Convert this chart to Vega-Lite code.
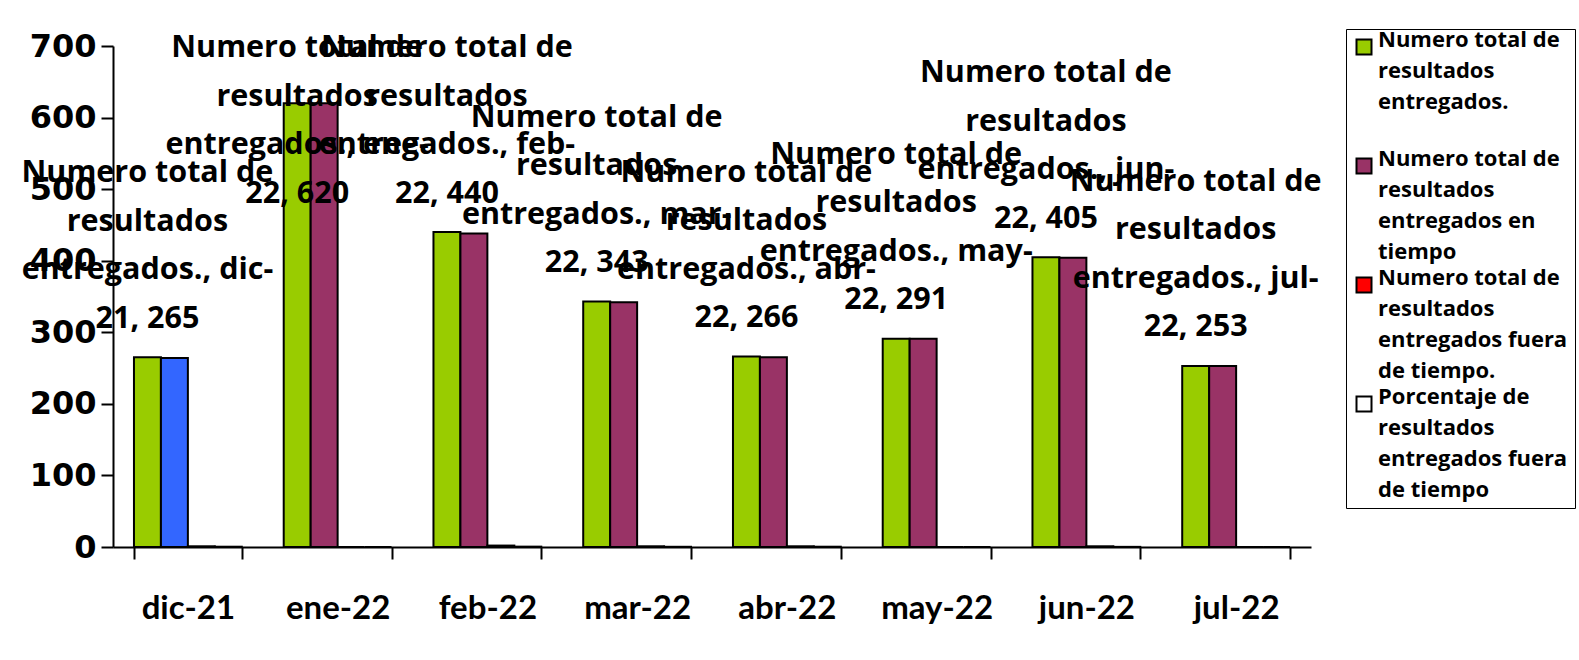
{
  "$schema": "https://vega.github.io/schema/vega-lite/v6.json",
  "width": 1198,
  "height": 501,
  "autosize": {"type": "none"},
  "padding": {"left": 113, "top": 46, "right": 268, "bottom": 113},
  "background": "white",
  "config": {
    "view": {"stroke": null},
    "style": {"guide-label": {"lineHeight": 31}}
  },
  "data": {
    "values": [
      {"month": "dic-21", "series": "Numero total de resultados entregados.", "value": 265},
      {"month": "ene-22", "series": "Numero total de resultados entregados.", "value": 620},
      {"month": "feb-22", "series": "Numero total de resultados entregados.", "value": 440},
      {"month": "mar-22", "series": "Numero total de resultados entregados.", "value": 343},
      {"month": "abr-22", "series": "Numero total de resultados entregados.", "value": 266},
      {"month": "may-22", "series": "Numero total de resultados entregados.", "value": 291},
      {"month": "jun-22", "series": "Numero total de resultados entregados.", "value": 405},
      {"month": "jul-22", "series": "Numero total de resultados entregados.", "value": 253},
      {"month": "dic-21", "series": "Numero total de resultados entregados en tiempo", "value": 264},
      {"month": "ene-22", "series": "Numero total de resultados entregados en tiempo", "value": 620},
      {"month": "feb-22", "series": "Numero total de resultados entregados en tiempo", "value": 438},
      {"month": "mar-22", "series": "Numero total de resultados entregados en tiempo", "value": 342},
      {"month": "abr-22", "series": "Numero total de resultados entregados en tiempo", "value": 265},
      {"month": "may-22", "series": "Numero total de resultados entregados en tiempo", "value": 291},
      {"month": "jun-22", "series": "Numero total de resultados entregados en tiempo", "value": 404},
      {"month": "jul-22", "series": "Numero total de resultados entregados en tiempo", "value": 253},
      {"month": "dic-21", "series": "Numero total de resultados entregados fuera de tiempo.", "value": 1},
      {"month": "ene-22", "series": "Numero total de resultados entregados fuera de tiempo.", "value": 0},
      {"month": "feb-22", "series": "Numero total de resultados entregados fuera de tiempo.", "value": 2},
      {"month": "mar-22", "series": "Numero total de resultados entregados fuera de tiempo.", "value": 1},
      {"month": "abr-22", "series": "Numero total de resultados entregados fuera de tiempo.", "value": 1},
      {"month": "may-22", "series": "Numero total de resultados entregados fuera de tiempo.", "value": 0},
      {"month": "jun-22", "series": "Numero total de resultados entregados fuera de tiempo.", "value": 1},
      {"month": "jul-22", "series": "Numero total de resultados entregados fuera de tiempo.", "value": 0},
      {"month": "dic-21", "series": "Porcentaje de resultados entregados fuera de tiempo", "value": 0.4},
      {"month": "ene-22", "series": "Porcentaje de resultados entregados fuera de tiempo", "value": 0},
      {"month": "feb-22", "series": "Porcentaje de resultados entregados fuera de tiempo", "value": 0.5},
      {"month": "mar-22", "series": "Porcentaje de resultados entregados fuera de tiempo", "value": 0.3},
      {"month": "abr-22", "series": "Porcentaje de resultados entregados fuera de tiempo", "value": 0.4},
      {"month": "may-22", "series": "Porcentaje de resultados entregados fuera de tiempo", "value": 0},
      {"month": "jun-22", "series": "Porcentaje de resultados entregados fuera de tiempo", "value": 0.2},
      {"month": "jul-22", "series": "Porcentaje de resultados entregados fuera de tiempo", "value": 0}
    ]
  },
  "encoding": {
    "x": {
      "field": "month",
      "type": "nominal",
      "sort": ["dic-21", "ene-22", "feb-22", "mar-22", "abr-22", "may-22", "jun-22", "jul-22"],
      "scale": {"paddingInner": 0.28, "paddingOuter": 0.14},
      "axis": {
        "title": null,
        "labelAngle": 0,
        "labelFont": "Lato",
        "labelFontWeight": "bold",
        "labelFontSize": 33,
        "labelColor": "black",
        "labelPadding": 33,
        "tickBand": "extent",
        "tickSize": 12,
        "tickWidth": 2,
        "tickColor": "black",
        "domainColor": "black",
        "domainWidth": 2
      }
    },
    "xOffset": {
      "field": "series",
      "type": "nominal",
      "sort": [
        "Numero total de resultados entregados.",
        "Numero total de resultados entregados en tiempo",
        "Numero total de resultados entregados fuera de tiempo.",
        "Porcentaje de resultados entregados fuera de tiempo"
      ],
      "scale": {"paddingInner": 0, "paddingOuter": 0}
    },
    "y": {
      "field": "value",
      "type": "quantitative",
      "scale": {"domain": [0, 700], "nice": false},
      "axis": {
        "title": null,
        "values": [0, 100, 200, 300, 400, 500, 600, 700],
        "grid": false,
        "labelFont": "DejaVu Sans",
        "labelFontWeight": "bold",
        "labelFontSize": 32,
        "labelColor": "black",
        "labelPadding": 5,
        "tickSize": 12,
        "tickWidth": 2,
        "tickColor": "black",
        "domainColor": "black",
        "domainWidth": 2
      }
    }
  },
  "layer": [
    {
      "mark": {"type": "bar", "stroke": "black", "strokeWidth": 2},
      "encoding": {
        "fill": {
          "condition": {
            "test": "datum.month == 'dic-21' && datum.series == 'Numero total de resultados entregados en tiempo'",
            "value": "#3366FF"
          },
          "field": "series",
          "type": "nominal",
          "sort": [
            "Numero total de resultados entregados.",
            "Numero total de resultados entregados en tiempo",
            "Numero total de resultados entregados fuera de tiempo.",
            "Porcentaje de resultados entregados fuera de tiempo"
          ],
          "scale": {
            "domain": [
              "Numero total de resultados entregados.",
              "Numero total de resultados entregados en tiempo",
              "Numero total de resultados entregados fuera de tiempo.",
              "Porcentaje de resultados entregados fuera de tiempo"
            ],
            "range": ["#99CC00", "#993366", "#FF0000", "#FFFFFF"]
          },
          "legend": {
            "title": null,
            "orient": "none",
            "legendX": 1233,
            "legendY": -17,
            "strokeColor": "black",
            "fillColor": "white",
            "padding": 7,
            "rowPadding": 4,
            "symbolType": "square",
            "symbolSize": 225,
            "symbolStrokeColor": "black",
            "symbolStrokeWidth": 2,
            "symbolOpacity": 1,
            "labelFont": "Open Sans",
            "labelFontWeight": "bold",
            "labelFontSize": 22,
            "labelColor": "black",
            "labelLimit": 400,
            "labelOffset": 3,
            "labelBaseline": "alphabetic",
            "labelExpr": "datum.label == 'Numero total de resultados entregados.' ? ['Numero total de','resultados','entregados.',''] : datum.label == 'Numero total de resultados entregados en tiempo' ? ['Numero total de','resultados','entregados en','tiempo'] : datum.label == 'Numero total de resultados entregados fuera de tiempo.' ? ['Numero total de','resultados','entregados fuera','de tiempo.'] : ['Porcentaje de','resultados','entregados fuera','de tiempo']"
          }
        }
      }
    },
    {
      "transform": [
        {"filter": "datum.series == 'Numero total de resultados entregados.'"},
        {"calculate": "min(datum.value, 440)", "as": "labelAnchor"},
        {"calculate": "'Numero total de\\nresultados\\nentregados., ' + split(datum.month, '-')[0] + '-\\n' + split(datum.month, '-')[1] + ', ' + datum.value", "as": "labelText"}
      ],
      "mark": {
        "type": "text",
        "font": "Open Sans",
        "fontWeight": "bold",
        "fontSize": 30.5,
        "color": "black",
        "lineBreak": "\n",
        "lineHeight": 48.5,
        "baseline": "bottom",
        "align": "center",
        "dx": 0,
        "dy": -169
      },
      "encoding": {
        "y": {"field": "labelAnchor", "type": "quantitative"},
        "text": {"field": "labelText", "type": "nominal"}
      }
    }
  ]
}
